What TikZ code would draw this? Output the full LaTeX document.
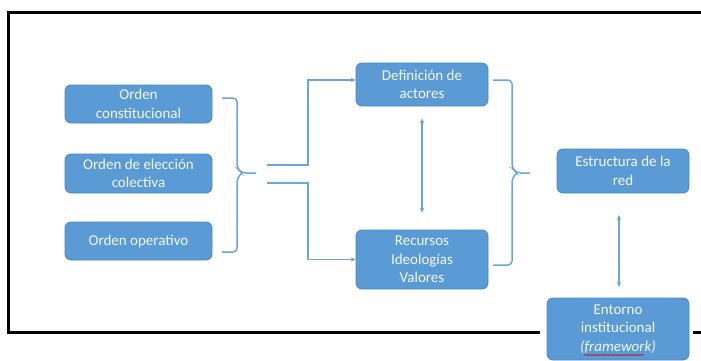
\documentclass[tikz,border=0pt]{standalone}
\usepackage{fontspec}
\setmainfont{Carlito}
\usetikzlibrary{arrows.meta,calc,decorations.pathmorphing}
\definecolor{boxblue}{HTML}{5B9BD5}
\definecolor{boxedge}{HTML}{4A86C2}
\definecolor{connblue}{HTML}{6BA5DB}
\definecolor{txtwhite}{HTML}{F4F7FC}
\tikzset{
  box/.style={rectangle, rounded corners=6pt, fill=boxblue, draw=boxedge, line width=0.8pt,
    text=txtwhite, align=center, inner sep=0pt, font=\fontsize{15}{18.5}\selectfont},
  conn/.style={draw=connblue, line width=1.5pt},
  tip/.style={-{Stealth[length=5pt,width=4.5pt]}},
  dtip/.style={{Stealth[length=5pt,width=4.5pt]}-{Stealth[length=5pt,width=4.5pt]}},
  frame/.style={draw=black, line width=3pt},
}
\begin{document}
\begin{tikzpicture}[x=1pt,y=-1pt]
\useasboundingbox (0,0) rectangle (701,360);
% frame
\coordinate (ftr) at (705,12);
\coordinate (ftl) at (8,12);
\coordinate (fbl) at (8,332);
\coordinate (fbr1) at (693,332);
\coordinate (fbr2) at (705,332);
% boxes
\node[box, minimum width=147pt, minimum height=38pt] (oc) at (138.5,104) {Orden\\constitucional};
\node[box, minimum width=147pt, minimum height=39pt] (oec) at (138.5,173.5) {Orden de elección\\colectiva};
\node[box, minimum width=147pt, minimum height=38pt] (oo) at (138.5,241) {Orden operativo};
\node[box, minimum width=132pt, minimum height=43pt] (def) at (422,84.5) {Definición de\\actores};
\node[box, minimum width=132pt, minimum height=59pt] (rec) at (422,259.5) {Recursos\\Ideologías\\Valores};
\node[box, minimum width=132pt, minimum height=44pt] (est) at (623,171) {Estructura de la\\red};
\node[box, minimum width=142pt, minimum height=62pt] (ent) at (618,329) {Entorno\\institucional\\\textit{(framework)}};
% frame lines
\draw[frame] (ftr) -- (ftl) -- (fbl) -- ([xshift=-7pt]ent.west |- fbl);
\draw[frame] (fbr1) -- (fbr2);
% brace 1
\coordinate (b1t) at (222,98);
\coordinate (b1b) at (222,252);
\coordinate (b1m) at (242,173);
\coordinate (b1tip) at (256,173);
\draw[conn, rounded corners=4pt] (b1t) -| (237,168) -- (b1m) -- (b1tip);
\draw[conn, rounded corners=4pt] (b1b) -| (237,178) -- (b1m);
% split lines
\coordinate (s1) at (267,165);
\coordinate (s2) at (267,183);
\draw[conn, tip] (s1) -- (308,165) |- ([yshift=4.5pt]def.west);
\draw[conn, tip] (s2) -- (308,183) |- (rec.west);
% double arrow def-rec
\draw[conn, dtip] ([yshift=-12pt]def.south) -- ([yshift=17pt]rec.north);
% brace 2
\coordinate (b2t) at (493,80);
\coordinate (b2b) at (493,265);
\coordinate (b2m) at (517,173);
\coordinate (b2tip) at (530,173);
\draw[conn, rounded corners=4pt] (b2t) -| (512,168) -- (b2m) -- (b2tip);
\draw[conn, rounded corners=4pt] (b2b) -| (512,178) -- (b2m);
% double arrow est-ent
\coordinate (a3) at (619,215);
\coordinate (a4) at (619,287);
\draw[conn, dtip] (a3) -- (a4);
% spell-check underline
\draw[red!80!black, line width=0.5pt, decorate, decoration={snake, amplitude=0.6pt, segment length=2.5pt}]
  ($(ent.center)+(-34,26)$) -- ($(ent.center)+(26,26)$);
\end{tikzpicture}
\end{document}
